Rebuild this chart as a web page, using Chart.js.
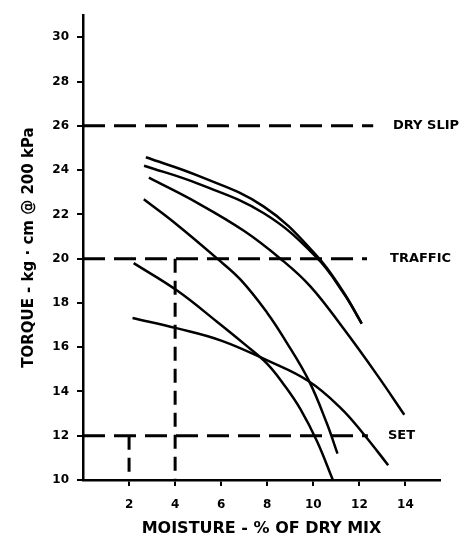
<!DOCTYPE html>
<html>
<head>
<meta charset="utf-8">
<script src="https://cdn.jsdelivr.net/npm/chart.js@4.4.1/dist/chart.umd.min.js"></script>
<style>
  body { margin: 0; background: #fff; }
  canvas { display: block; }
</style>
</head>
<body>
<canvas id="torqueChart" width="467" height="541"></canvas>
<script>
// curves: moisture (% of dry mix) -> torque (kg.cm @ 200 kPa)
const curveAx = [2.73, 4.96, 7.85, 10.16, 11.31, 12.1];
const curveAy = [24.58, 23.76, 22.35, 20.12, 18.48, 17.07];
const curveBx = [2.65, 4.96, 7.85, 10.1, 11.31, 12.1];
const curveBy = [24.2, 23.4, 22.05, 20.1, 18.45, 17.07];
const curveCx = [2.86, 5.0, 7.0, 8.57, 9.87, 11.31, 12.76, 13.95];
const curveCy = [23.66, 22.5, 21.25, 20.0, 18.75, 16.84, 14.76, 12.95];
const curveDx = [2.64, 4.0, 5.83, 6.84, 8.0, 8.79, 9.8, 10.59, 11.05];
const curveDy = [22.68, 21.6, 20.0, 19.05, 17.55, 16.3, 14.5, 12.55, 11.19];
const curveEx = [2.2, 4.1, 5.83, 7.0, 8.0, 8.8, 9.44, 10.16, 10.85];
const curveEy = [19.8, 18.55, 17.14, 16.15, 15.25, 14.2, 13.2, 11.75, 10.0];
const curveFx = [2.15, 4.1, 6.0, 8.0, 9.8, 11.17, 12.18, 13.25];
const curveFy = [17.32, 16.85, 16.3, 15.4, 14.46, 13.27, 12.08, 10.67];

// horizontal limit lines
const limitNames = ["DRY SLIP", "TRAFFIC", "SET"];
const limitValues = [26, 20, 12];
const limitEnds = [12.6, 12.33, 12.37];
const limitLabelAt = [13.46, 13.33, 13.24];

// vertical guides (moisture value, torque it starts from)
const guideX = [4, 2];
const guideTop = [20, 12];

const xTicks = [2, 4, 6, 8, 10, 12, 14];
const yTicks = [10, 12, 14, 16, 18, 20, 22, 24, 26, 28, 30];

function pts(xs, ys) {
  return xs.map((x, i) => ({ x: x, y: ys[i] }));
}

const curves = [
  pts(curveAx, curveAy),
  pts(curveBx, curveBy),
  pts(curveCx, curveCy),
  pts(curveDx, curveDy),
  pts(curveEx, curveEy),
  pts(curveFx, curveFy),
];

const datasets = [];
curves.forEach((c) => {
  datasets.push({
    data: c,
    borderColor: "#000",
    borderWidth: 2.5,
    pointRadius: 0,
    tension: 0.4,
  });
});
limitValues.forEach((v, i) => {
  datasets.push({
    data: [{ x: 0, y: v }, { x: limitEnds[i], y: v }],
    borderColor: "#000",
    borderWidth: 3,
    borderDash: [22, 9],
    pointRadius: 0,
  });
});
guideX.forEach((x, i) => {
  datasets.push({
    data: [{ x: x, y: guideTop[i] }, { x: x, y: 10 }],
    borderColor: "#000",
    borderWidth: 3,
    borderDash: [14, 8],
    pointRadius: 0,
  });
});

// writes the names of the limit lines to the right of them
const limitLabels = {
  id: "limitLabels",
  afterDatasetsDraw(chart) {
    const ctx = chart.ctx;
    const xs = chart.scales.x, ys = chart.scales.y;
    ctx.save();
    ctx.fillStyle = "#000";
    ctx.font = "bold 13px 'DejaVu Sans'";
    ctx.textBaseline = "middle";
    ctx.textAlign = "left";
    limitNames.forEach((name, i) => {
      ctx.fillText(name, xs.getPixelForValue(limitLabelAt[i]), ys.getPixelForValue(limitValues[i]));
    });
    ctx.restore();
  },
};

Chart.defaults.font.family = "'DejaVu Sans'";
Chart.defaults.font.weight = "bold";
Chart.defaults.color = "#000";

new Chart(document.getElementById("torqueChart"), {
  type: "line",
  data: { datasets: datasets },
  plugins: [limitLabels],
  options: {
    responsive: false,
    animation: false,
    devicePixelRatio: 1,
    layout: { padding: { top: 10, right: 27, left: 0, bottom: 0 } },
    plugins: { legend: { display: false }, tooltip: { enabled: false } },
    scales: {
      x: {
        type: "linear",
        min: 0,
        max: 15.5,
        afterBuildTicks: (s) => { s.ticks = xTicks.map((v) => ({ value: v })); },
        afterFit: (s) => { s.height = 61; },
        ticks: { autoSkip: false, maxRotation: 0, padding: 12, font: { size: 12, weight: "bold" } },
        grid: { drawOnChartArea: false, drawTicks: true, tickLength: 6, color: "#000", lineWidth: 2 },
        border: { display: true, color: "#000", width: 2.5 },
        title: {
          display: true,
          text: "MOISTURE - % OF DRY MIX",
          font: { size: 16, weight: "bold" },
          padding: { top: 0, bottom: 3 },
        },
      },
      y: {
        type: "linear",
        min: 10,
        max: 31,
        afterBuildTicks: (s) => { s.ticks = yTicks.map((v) => ({ value: v })); },
        afterFit: (s) => { s.width = 83; },
        ticks: { autoSkip: false, padding: 8, font: { size: 12, weight: "bold" } },
        grid: { drawOnChartArea: false, drawTicks: true, tickLength: 6, color: "#000", lineWidth: 2 },
        border: { display: true, color: "#000", width: 2.5 },
        title: {
          display: true,
          text: "TORQUE - kg · cm @ 200 kPa",
          font: { size: 15, weight: "bold" },
          padding: { top: 20, bottom: 0 },
        },
      },
    },
  },
});
</script>
</body>
</html>
